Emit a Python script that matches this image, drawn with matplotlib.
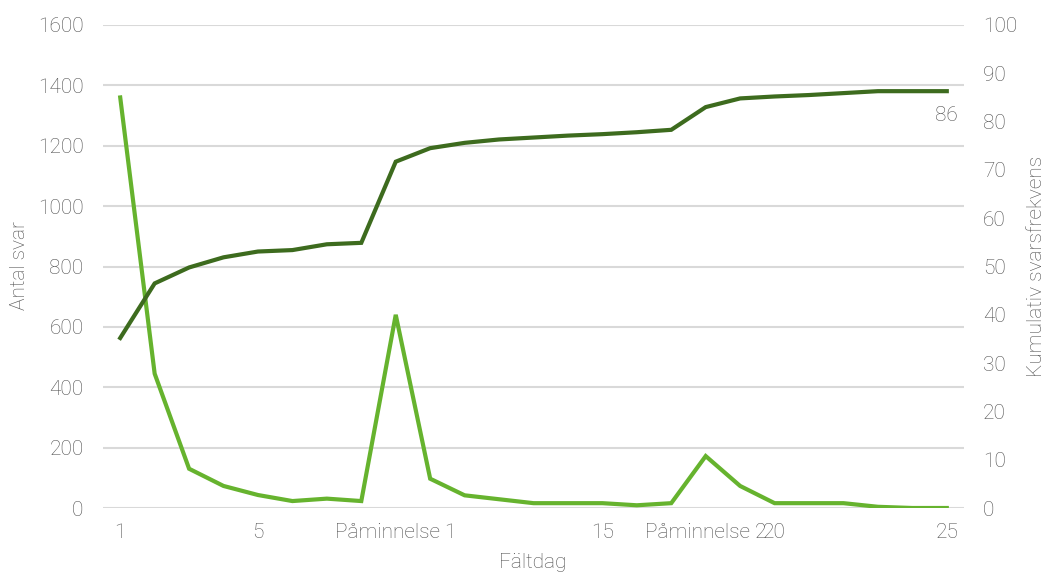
import numpy as np
import matplotlib.pyplot as plt

# data
days = list(range(1, 26))
antal_svar = [1360, 445, 130, 73, 43, 23, 31, 23, 640, 97,
              42, 29, 16, 16, 16, 9, 16, 172, 73, 16,
              16, 16, 4, 0, 0]
kumulativ = [35.2, 46.5, 49.8, 51.9, 53.1, 53.4, 54.6, 54.9, 71.7, 74.5,
             75.6, 76.3, 76.7, 77.1, 77.4, 77.8, 78.3, 83.0, 84.8, 85.2,
             85.5, 85.9, 86.3, 86.3, 86.3]
tick_days = [1, 5, 9, 15, 18, 20, 25]
tick_labels = ['1', '5', 'Påminnelse 1', '15', 'Påminnelse 2', '20', '25']
end_label = '86'

plt.rcParams['font.family'] = ['Roboto', 'DejaVu Sans']
plt.rcParams['font.weight'] = 'light'
txt = '#505050'
fs = 15

fig = plt.figure(figsize=(10.44, 5.74), dpi=100)
ax = fig.add_axes([103/1044, 66/574, 861/1044, 483/574])
ax2 = ax.twinx()

ax.plot(days, antal_svar, color='#66b32e', lw=3, solid_joinstyle='miter', zorder=3)
ax2.plot(days, kumulativ, color='#3d6b1e', lw=3, solid_joinstyle='miter', zorder=3)
ax2.annotate(end_label, (days[-1], kumulativ[-1]), xytext=(0, -11), textcoords='offset points',
             ha='center', va='top', fontsize=fs, color=txt)

ax.set_xlim(0.5, 25.5)
ax.set_ylim(0, 1600)
ax.set_yticks(np.arange(0, 1601, 200))
ax2.set_ylim(0, 100)
ax2.set_yticks(np.arange(0, 101, 10))
ax.set_xticks(tick_days)
ax.set_xticklabels(tick_labels)

ax.grid(axis='y', color='#d9d9d9', lw=1.5)
ax.set_axisbelow(True)
for a in (ax, ax2):
    for s in a.spines.values():
        s.set_visible(False)
    a.tick_params(length=0, labelsize=fs, labelcolor=txt)
ax.tick_params(axis='y', pad=14)
ax2.tick_params(axis='y', pad=13.5)
ax.tick_params(axis='x', pad=11)

# axis titles placed like in the reference
fig.text(20/1044, 1 - 266/574, 'Antal svar', rotation=90, ha='center', va='center',
         fontsize=fs, color=txt)
fig.text(1036/1044, 1 - 266/574, 'Kumulativ svarsfrekvens', rotation=90, ha='center',
         va='center', fontsize=fs, color=txt)
fig.text(533/1044, 1 - 563/574, 'Fältdag', ha='center', va='center', fontsize=fs, color=txt)

fig.savefig('out.png', dpi=100)
